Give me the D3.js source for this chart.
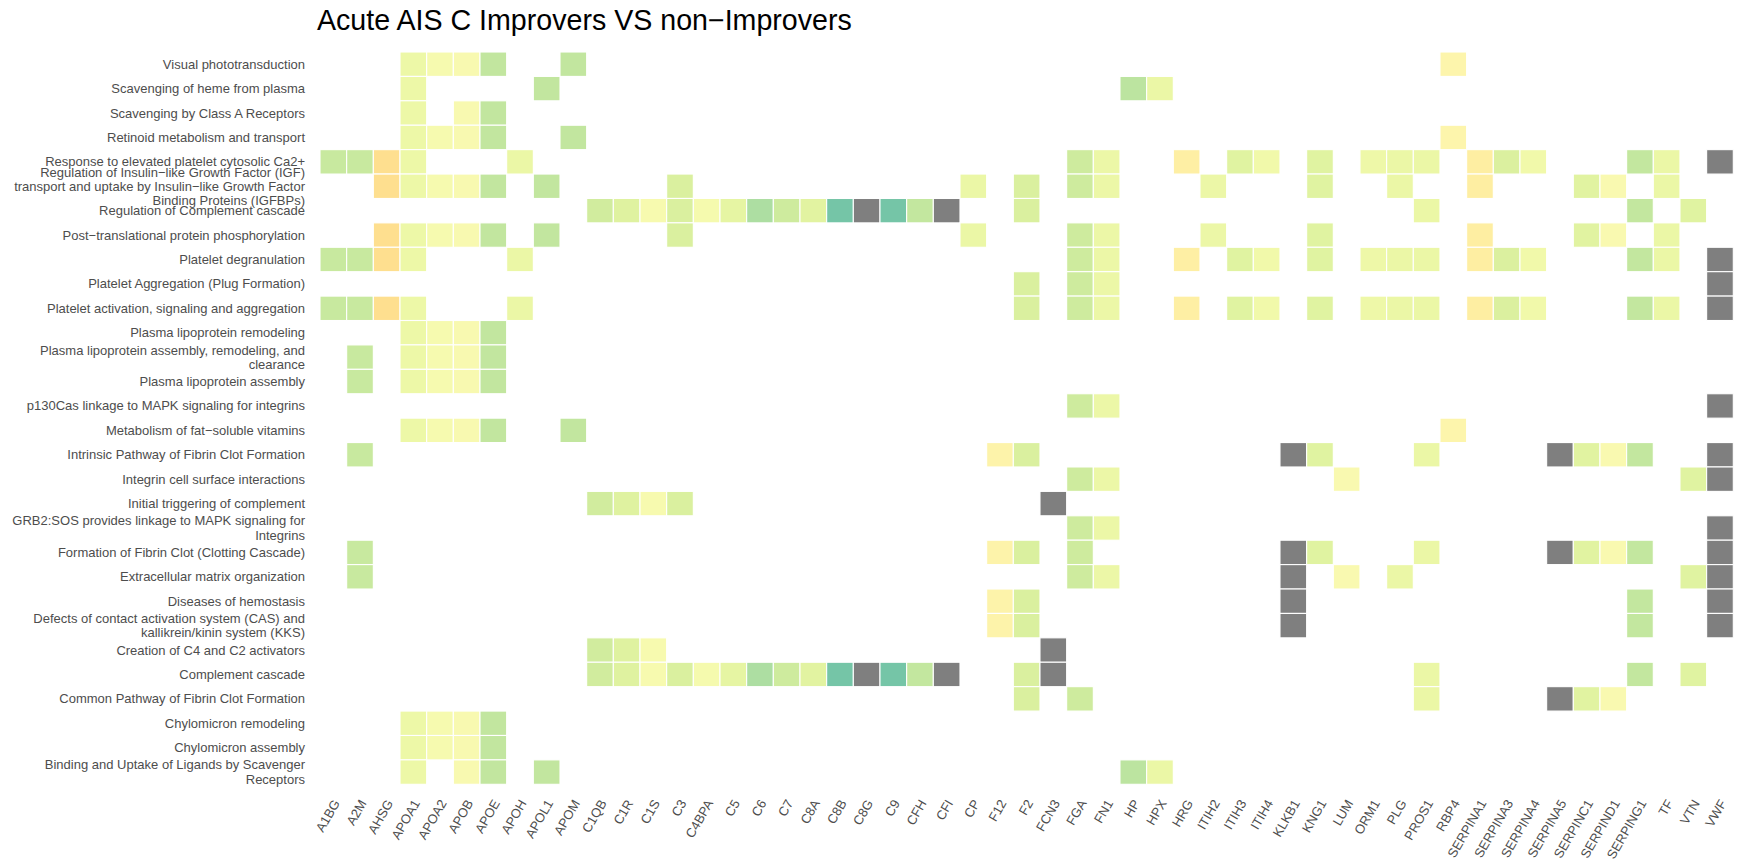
<!DOCTYPE html>
<html>
<head>
<meta charset="utf-8">
<script src="https://cdn.jsdelivr.net/npm/d3@7"></script>
<style>
  html, body { margin: 0; padding: 0; background: #ffffff; }
  svg { display: block; }
  text { font-family: "Liberation Sans", Arial, Helvetica, sans-serif; }
</style>
</head>
<body>
<svg id="chart" width="1743" height="863"></svg>
<script>
// ---- DATA ----
const title = "Acute AIS C Improvers VS non\u2212Improvers";

// proteins (x categories, left to right)
const proteins = ["A1BG","A2M","AHSG","APOA1","APOA2","APOB","APOE","APOH","APOL1","APOM",
  "C1QB","C1R","C1S","C3","C4BPA","C5","C6","C7","C8A","C8B","C8G","C9","CFH","CFI","CP",
  "F12","F2","FCN3","FGA","FN1","HP","HPX","HRG","ITIH2","ITIH3","ITIH4","KLKB1","KNG1",
  "LUM","ORM1","PLG","PROS1","RBP4","SERPINA1","SERPINA3","SERPINA4","SERPINA5","SERPINC1",
  "SERPIND1","SERPING1","TF","VTN","VWF"];

// estimated fold change per protein (null = not available, drawn grey)
const foldChange = [0.60,0.60,-0.38,0.26,0.11,0.08,0.64,0.29,0.64,0.64,
  0.53,0.41,0.10,0.46,0.14,0.34,0.78,0.55,0.38,1.12,null,1.12,0.63,null,0.28,
  -0.12,0.46,null,0.55,0.27,0.68,0.28,-0.19,0.27,0.40,0.21,null,0.40,
  0.06,0.25,0.29,0.28,-0.09,-0.21,0.45,0.21,null,0.39,
  0.05,0.63,0.28,0.40,null];

// pathways (y categories, top to bottom), "\n" marks label line breaks
const pathways = [
  "Visual phototransduction",
  "Scavenging of heme from plasma",
  "Scavenging by Class A Receptors",
  "Retinoid metabolism and transport",
  "Response to elevated platelet cytosolic Ca2+",
  "Regulation of Insulin\u2212like Growth Factor (IGF)\ntransport and uptake by Insulin\u2212like Growth Factor\nBinding Proteins (IGFBPs)",
  "Regulation of Complement cascade",
  "Post\u2212translational protein phosphorylation",
  "Platelet degranulation",
  "Platelet Aggregation (Plug Formation)",
  "Platelet activation, signaling and aggregation",
  "Plasma lipoprotein remodeling",
  "Plasma lipoprotein assembly, remodeling, and\nclearance",
  "Plasma lipoprotein assembly",
  "p130Cas linkage to MAPK signaling for integrins",
  "Metabolism of fat\u2212soluble vitamins",
  "Intrinsic Pathway of Fibrin Clot Formation",
  "Integrin cell surface interactions",
  "Initial triggering of complement",
  "GRB2:SOS provides linkage to MAPK signaling for\nIntegrins",
  "Formation of Fibrin Clot (Clotting Cascade)",
  "Extracellular matrix organization",
  "Diseases of hemostasis",
  "Defects of contact activation system (CAS) and\nkallikrein/kinin system (KKS)",
  "Creation of C4 and C2 activators",
  "Complement cascade",
  "Common Pathway of Fibrin Clot Formation",
  "Chylomicron remodeling",
  "Chylomicron assembly",
  "Binding and Uptake of Ligands by Scavenger\nReceptors"
];

// proteins found in each pathway (same order as pathways)
const members = [
  ["APOA1","APOA2","APOB","APOE","APOM","RBP4"],
  ["APOA1","APOL1","HP","HPX"],
  ["APOA1","APOB","APOE"],
  ["APOA1","APOA2","APOB","APOE","APOM","RBP4"],
  ["A1BG","A2M","AHSG","APOA1","APOH","FGA","FN1","HRG","ITIH3","ITIH4","KNG1","ORM1","PLG","PROS1","SERPINA1","SERPINA3","SERPINA4","SERPING1","TF","VWF"],
  ["AHSG","APOA1","APOA2","APOB","APOE","APOL1","C3","CP","F2","FGA","FN1","ITIH2","KNG1","PLG","SERPINA1","SERPINC1","SERPIND1","TF"],
  ["C1QB","C1R","C1S","C3","C4BPA","C5","C6","C7","C8A","C8B","C8G","C9","CFH","CFI","F2","PROS1","SERPING1","VTN"],
  ["AHSG","APOA1","APOA2","APOB","APOE","APOL1","C3","CP","FGA","FN1","ITIH2","KNG1","SERPINA1","SERPINC1","SERPIND1","TF"],
  ["A1BG","A2M","AHSG","APOA1","APOH","FGA","FN1","HRG","ITIH3","ITIH4","KNG1","ORM1","PLG","PROS1","SERPINA1","SERPINA3","SERPINA4","SERPING1","TF","VWF"],
  ["F2","FGA","FN1","VWF"],
  ["A1BG","A2M","AHSG","APOA1","APOH","F2","FGA","FN1","HRG","ITIH3","ITIH4","KNG1","ORM1","PLG","PROS1","SERPINA1","SERPINA3","SERPINA4","SERPING1","TF","VWF"],
  ["APOA1","APOA2","APOB","APOE"],
  ["A2M","APOA1","APOA2","APOB","APOE"],
  ["A2M","APOA1","APOA2","APOB","APOE"],
  ["FGA","FN1","VWF"],
  ["APOA1","APOA2","APOB","APOE","APOM","RBP4"],
  ["A2M","F12","F2","KLKB1","KNG1","PROS1","SERPINA5","SERPINC1","SERPIND1","SERPING1","VWF"],
  ["FGA","FN1","LUM","VTN","VWF"],
  ["C1QB","C1R","C1S","C3","FCN3"],
  ["FGA","FN1","VWF"],
  ["A2M","F12","F2","FGA","KLKB1","KNG1","PROS1","SERPINA5","SERPINC1","SERPIND1","SERPING1","VWF"],
  ["A2M","FGA","FN1","KLKB1","LUM","PLG","VTN","VWF"],
  ["F12","F2","KLKB1","SERPING1","VWF"],
  ["F12","F2","KLKB1","SERPING1","VWF"],
  ["C1QB","C1R","C1S","FCN3"],
  ["C1QB","C1R","C1S","C3","C4BPA","C5","C6","C7","C8A","C8B","C8G","C9","CFH","CFI","F2","FCN3","PROS1","SERPING1","VTN"],
  ["F2","FGA","PROS1","SERPINA5","SERPINC1","SERPIND1"],
  ["APOA1","APOA2","APOB","APOE"],
  ["APOA1","APOA2","APOB","APOE"],
  ["APOA1","APOB","APOE","APOL1","HP","HPX"]
];

// ---- CHART ----
const svg = d3.select("#chart");
const panel = { left: 320, right: 1733.3, top: 52, bottom: 784.3 };

const x = d3.scaleBand().domain(proteins).range([panel.left, panel.right]).padding(0);
const y = d3.scaleBand().domain(pathways).range([panel.top, panel.bottom]).padding(0);
const color = d3.scaleSequential(d3.interpolateSpectral).domain([-2, 2]);
const fcByProtein = new Map(proteins.map((p, i) => [p, foldChange[i]]));

const cells = [];
pathways.forEach((pw, i) => {
  members[i].forEach(p => cells.push({ pathway: pw, protein: p, value: fcByProtein.get(p) }));
});

svg.append("g").selectAll("rect").data(cells).join("rect")
  .attr("x", d => x(d.protein))
  .attr("y", d => y(d.pathway))
  .attr("width", x.bandwidth())
  .attr("height", y.bandwidth())
  .attr("fill", d => d.value == null ? "#7F7F7F" : color(d.value))
  .attr("stroke", "#ffffff")
  .attr("stroke-width", 1.1);

// y axis labels
const fs = 13, lh = 14.3;
const yLab = svg.append("g");
pathways.forEach(pw => {
  const lines = pw.split("\n");
  const cy = y(pw) + y.bandwidth() / 2;
  const t = yLab.append("text")
    .attr("x", 305).attr("y", cy)
    .attr("text-anchor", "end")
    .attr("font-size", fs)
    .attr("fill", "#4D4D4D");
  lines.forEach((ln, k) => {
    t.append("tspan")
      .attr("x", 305)
      .attr("dy", k === 0 ? (-(lines.length - 1) / 2 * lh + fs * 0.35) : lh)
      .text(ln);
  });
});

// x axis labels
svg.append("g").selectAll("text").data(proteins).join("text")
  .attr("transform", d => `translate(${x(d) + x.bandwidth() / 2 + 7},803) rotate(-60)`)
  .attr("text-anchor", "end")
  .attr("font-size", fs)
  .attr("fill", "#4D4D4D")
  .text(d => d);

// title
svg.append("text")
  .attr("x", 317).attr("y", 30)
  .attr("font-size", 28.6)
  .attr("fill", "#000000")
  .text(title);
</script>
</body>
</html>
